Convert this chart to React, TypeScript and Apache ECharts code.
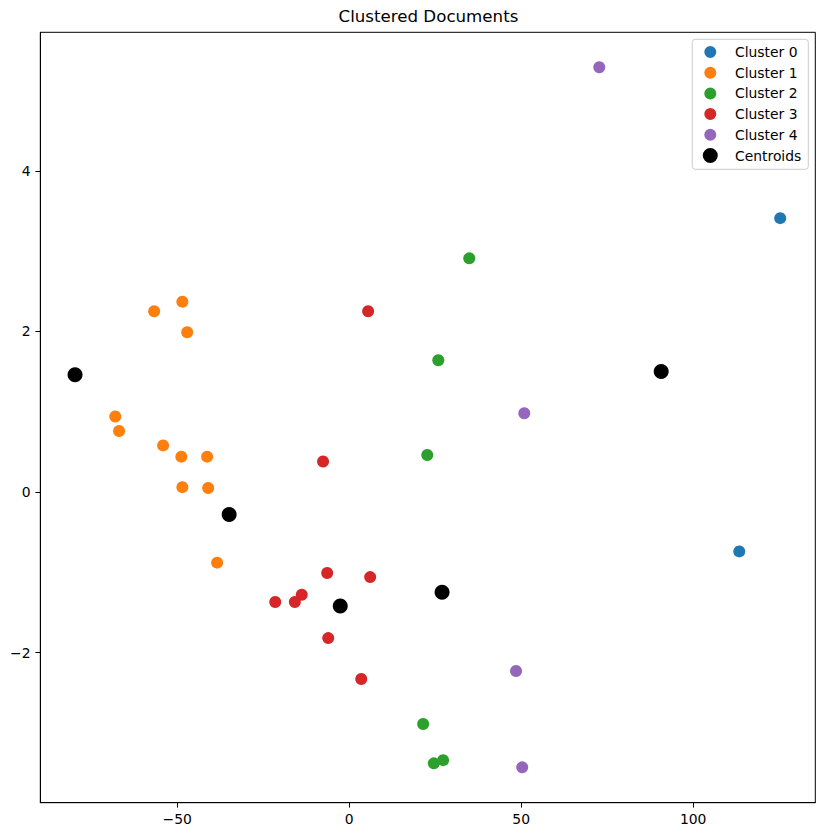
import React, { useEffect, useRef } from 'react';
import * as echarts from 'echarts';

const clusterNames = ['Cluster 0', 'Cluster 1', 'Cluster 2', 'Cluster 3', 'Cluster 4'];
const clusterColors = ['#1f77b4', '#ff7f0e', '#2ca02c', '#d62728', '#9467bd'];

const cluster0 = [[125.3, 3.41], [113.4, -0.74]];
const cluster1 = [
  [-56.7, 2.25], [-48.5, 2.37], [-47.1, 1.99], [-68.0, 0.94], [-66.9, 0.76],
  [-54.1, 0.58], [-48.8, 0.44], [-41.3, 0.44], [-48.5, 0.06], [-41.0, 0.05], [-38.4, -0.88],
];
const cluster2 = [[34.9, 2.91], [25.9, 1.64], [22.7, 0.46], [21.5, -2.89], [24.6, -3.38], [27.3, -3.34]];
const cluster3 = [
  [5.5, 2.25], [-7.6, 0.38], [-6.4, -1.01], [6.1, -1.06], [-13.8, -1.28],
  [-15.8, -1.37], [-21.5, -1.37], [-6.1, -1.82], [3.5, -2.33],
];
const cluster4 = [[72.7, 5.29], [50.9, 0.98], [48.5, -2.23], [50.3, -3.43]];
const centroids = [[-79.7, 1.46], [-34.9, -0.28], [-2.6, -1.42], [27.0, -1.25], [90.7, 1.5]];

const clusters = [cluster0, cluster1, cluster2, cluster3, cluster4];

const xTicks = [-50, 0, 50, 100];
const yTicks = [-2, 0, 2, 4];
const xRange = [-89.8, 135.5];
const yRange = [-3.87, 5.725];

const FONT = 'DejaVu Sans';
// legend handle boxes: 32.7 x 15, marker centred at x = 13
const smallCircleIcon = 'path://M7,7.5A6,6,0,1,1,19,7.5A6,6,0,1,1,7,7.5Z M0,0Z M32.7,15Z';
const bigCircleIcon = 'path://M5.5,7.5A7.5,7.5,0,1,1,20.5,7.5A7.5,7.5,0,1,1,5.5,7.5Z M0,0Z M32.7,15Z';

const fmt = (v: number) => String(v).replace('-', '\u2212');

export default function App() {
  const ref = useRef<HTMLDivElement>(null);
  useEffect(() => {
    const chart = echarts.init(ref.current!, null, { renderer: 'svg' });
    const axisCommon = {
      type: 'value' as const,
      axisLine: { show: true, onZero: false, lineStyle: { color: '#000', width: 1 } },
      splitLine: { show: false },
    };
    const series: any[] = clusters.map((d, i) => ({
      name: clusterNames[i],
      type: 'scatter',
      data: d,
      symbol: 'circle',
      symbolSize: 12,
      itemStyle: { color: clusterColors[i], opacity: 1 },
      emphasis: { disabled: true },
    }));
    series.push({
      name: 'Centroids',
      type: 'scatter',
      data: centroids,
      symbol: 'circle',
      symbolSize: 15,
      itemStyle: { color: '#000000', opacity: 1 },
      emphasis: { disabled: true },
      z: 5,
    });
    chart.setOption({
      animation: false,
      backgroundColor: '#ffffff',
      textStyle: { fontFamily: FONT },
      title: {
        text: 'Clustered Documents',
        left: 338.5,
        top: 8,
        padding: 0,
        textStyle: { fontFamily: FONT, fontSize: 16.67, fontWeight: 'normal', color: '#000' },
      },
      legend: {
        orient: 'vertical',
        right: 16.7,
        top: 39.3,
        padding: [5.2, 7, 6.3, 5],
        itemWidth: 32.7,
        itemHeight: 15,
        itemGap: 5.7,
        backgroundColor: 'rgba(255,255,255,0.8)',
        borderColor: '#cccccc',
        borderWidth: 1,
        borderRadius: 3,
        selectedMode: false,
        textStyle: { fontFamily: FONT, fontSize: 13.9, color: '#000', lineHeight: 14 },
        data: [
          ...clusterNames.map((n) => ({ name: n, icon: smallCircleIcon })),
          { name: 'Centroids', icon: bigCircleIcon },
        ],
      },
      grid: {
        left: 40.3,
        top: 32.3,
        right: 9.7,
        bottom: 33.3,
        show: true,
        borderColor: '#000',
        borderWidth: 1,
        backgroundColor: 'transparent',
      },
      xAxis: {
        ...axisCommon,
        min: xRange[0],
        max: xRange[1],
        axisTick: { show: true, customValues: xTicks, length: 4.9, lineStyle: { color: '#000', width: 1 } },
        axisLabel: {
          customValues: xTicks,
          margin: 9.7,
          color: '#000',
          fontSize: 13.9,
          fontFamily: FONT,
          formatter: fmt,
        },
      },
      yAxis: {
        ...axisCommon,
        min: yRange[0],
        max: yRange[1],
        axisTick: { show: true, customValues: yTicks, length: 4.9, lineStyle: { color: '#000', width: 1 } },
        axisLabel: {
          customValues: yTicks,
          margin: 9.7,
          color: '#000',
          fontSize: 13.9,
          fontFamily: FONT,
          formatter: fmt,
        },
      },
      series,
    });
    return () => chart.dispose();
  }, []);
  return (
    <div
      ref={ref}
      style={{ position: 'fixed', left: 0, top: 0, width: 825, height: 836, background: '#fff' }}
    />
  );
}
